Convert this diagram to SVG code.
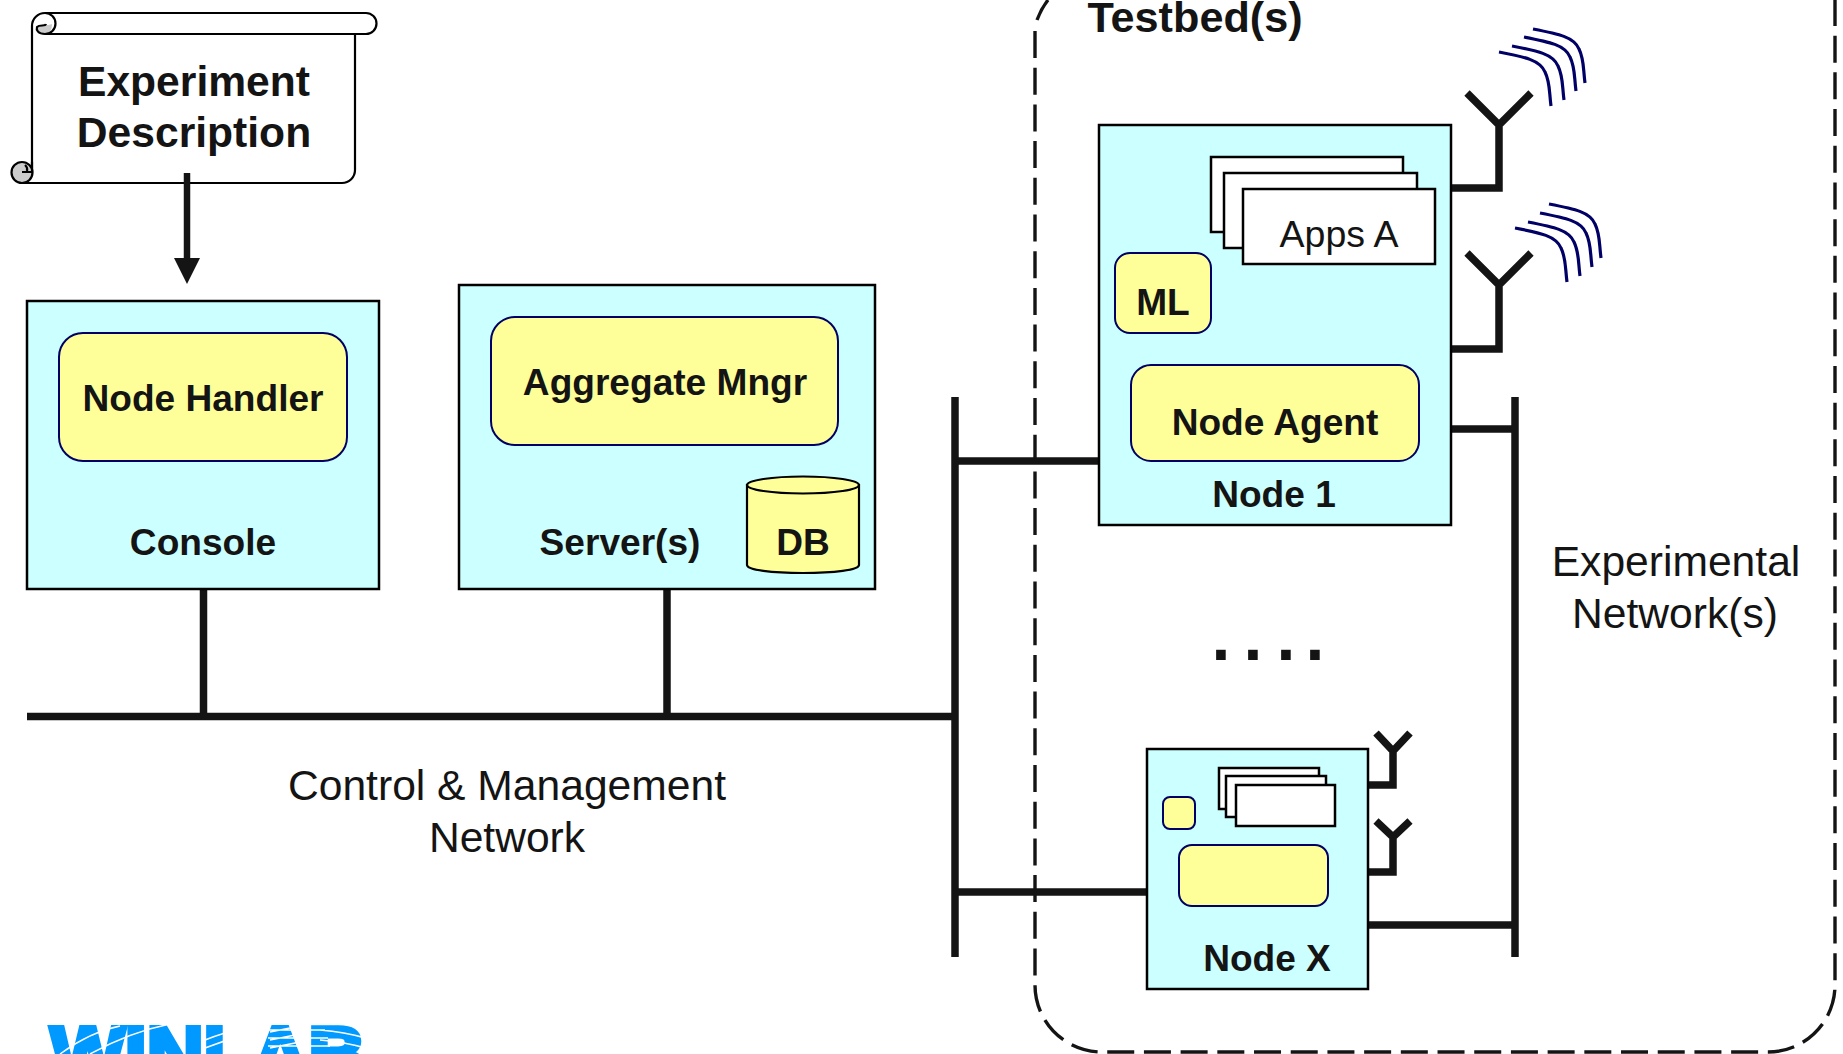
<svg xmlns="http://www.w3.org/2000/svg" width="1843" height="1054" viewBox="0 0 1843 1054">
<style>
text{font-family:"Liberation Sans",Arial,sans-serif;fill:#141414;text-anchor:middle}
.b{font-weight:700}
.t42{font-size:42.6px}
.t37{font-size:37.1px}
.box{fill:#ccffff;stroke:#000;stroke-width:2.5}
.ylw{fill:#ffff99;stroke:#000066;stroke-width:2}
.app{fill:#fff;stroke:#000;stroke-width:2.5}
.bus{fill:none;stroke:#141414;stroke-width:7.5}
.wave{fill:none;stroke:#000066;stroke-width:3.2}
.ln{fill:none;stroke:#000;stroke-width:2.2}
.curl{fill:#cccccc;stroke:#000;stroke-width:2.2}
.dash{fill:none;stroke:#141414;stroke-width:3.4}
</style>
<rect width="1843" height="1054" fill="#fff"/>
<g id="testbed">
<path class="dash" stroke-dasharray="27 9.700" d="M1035 31V985A67 67 0 0 0 1102 1052H1768A67 67 0 0 0 1835 985V-40"/>
<path class="dash" d="M1048 0Q1041 9 1037 20"/>
<text class="b" font-size="43.2" x="1195" y="32">Testbed(s)</text>
</g>
<g id="connectors">
<path class="bus" d="M27 716.500H955M955 397V957M203.500 589V716.500M667 589V716.500M955 461H1099M955 892H1147M1515 397V957M1451 429H1515M1368 925H1515"/>
<path class="bus" d="M1451 188H1499V125M1467 93L1499 125L1531 93"/>
<path class="bus" d="M1451 349H1499V285M1467 253L1499 285L1531 253"/>
<path class="bus" d="M1368 785H1393V751M1376 733L1393 751L1410 733"/>
<path class="bus" d="M1368 872H1393V837M1376 821L1393 837L1410 821"/>
<path class="wave" d="M1499 52C1525 57 1540 60 1545 72C1550 82 1549 90 1551 106M1512 46C1538 51 1553 54 1558 66C1563 76 1562 84 1564 100M1524 37C1550 42 1565 45 1570 57C1575 67 1574 75 1576 91M1533 29C1559 34 1574 37 1579 49C1584 59 1583 67 1585 83"/>
<path class="wave" d="M1515 228C1541 233 1556 236 1561 248C1566 258 1565 266 1567 282M1528 222C1554 227 1569 230 1574 242C1579 252 1578 260 1580 276M1540 213C1566 218 1581 221 1586 233C1591 243 1590 251 1592 267M1549 204C1575 209 1590 212 1595 224C1600 234 1599 242 1601 258"/>
</g>
<g id="experiment-description">
<path d="M32 172V26A13 13 0 0 1 45 13H366A10.500 10.500 0 0 1 366 34H355V170A13 13 0 0 1 342 183H22" fill="#fff" stroke="#000" stroke-width="2.200"/>
<path class="ln" d="M45 34H366"/>
<path d="M45 34C38 34 36 30 37 27C40 24 48 26 52 24C52 30 50 33 45 34Z" fill="#cccccc"/>
<path class="ln" d="M45 13A10.500 10.500 0 0 1 45 34C38 34 36 30 37 27C40 24 45 27 46 24"/>
<circle class="curl" cx="22" cy="172.500" r="10.500"/>
<path class="ln" d="M32 162V172H22M25 165A6 6 0 0 1 27 171" fill="#fff"/>
<text class="b t42" x="194" y="96">Experiment</text>
<text class="b t42" x="194" y="147">Description</text>
</g>
<g id="arrow">
<path d="M187 173V260" stroke="#141414" stroke-width="6.500" fill="none"/>
<path d="M174 258H200L187 284Z" fill="#141414"/>
</g>
<g id="console">
<rect class="box" x="27" y="301" width="352" height="288"/>
<rect class="ylw" x="59" y="333" width="288" height="128" rx="24"/>
<text class="b t37" x="203" y="411">Node Handler</text>
<text class="b t37" x="203" y="555">Console</text>
</g>
<g id="server">
<rect class="box" x="459" y="285" width="416" height="304"/>
<rect class="ylw" x="491" y="317" width="347" height="128" rx="24"/>
<text class="b t37" x="665" y="395">Aggregate Mngr</text>
<text class="b t37" x="620" y="555">Server(s)</text>
</g>
<g id="db">
<path d="M747 485V565C747 570 772 573 803 573S859 570 859 565V485Z" fill="#ffff99" stroke="#000" stroke-width="2.200"/>
<ellipse cx="803" cy="485" rx="56" ry="8.500" fill="#ffff99" stroke="#000" stroke-width="2.200"/>
<text class="b t37" x="803" y="555">DB</text>
</g>
<g id="node-1">
<rect class="box" x="1099" y="125" width="352" height="400"/>
<rect class="app" x="1211" y="157" width="192" height="75"/>
<rect class="app" x="1224" y="173" width="193" height="75"/>
<rect class="app" x="1243" y="189" width="192" height="75"/>
<text class="t37" x="1339" y="247" style="font-size:37.5px">Apps A</text>
<rect class="ylw" x="1115" y="253" width="96" height="80" rx="15"/>
<text class="b t37" x="1163" y="315">ML</text>
<rect class="ylw" x="1131" y="365" width="288" height="96" rx="20"/>
<text class="b t37" x="1275" y="435">Node Agent</text>
<text class="b t37" x="1274" y="507">Node 1</text>
</g>
<g id="node-x">
<rect class="box" x="1147" y="749" width="221" height="240"/>
<rect class="app" x="1219" y="768" width="100" height="41"/>
<rect class="app" x="1226" y="776" width="100" height="41"/>
<rect class="app" x="1236" y="785" width="99" height="41"/>
<rect class="ylw" x="1163" y="797" width="32" height="32" rx="7"/>
<rect class="ylw" x="1179" y="845" width="149" height="61" rx="13"/>
<text class="b t37" x="1267" y="971">Node X</text>
</g>
<g id="labels">
<text class="b" font-size="68" x="1221 1253 1286 1315" y="660">....</text>
<text class="t42" x="1676" y="576">Experimental</text>
<text class="t42" x="1675" y="628">Network(s)</text>
<text class="t42" x="507" y="800">Control &amp; Management</text>
<text class="t42" x="507" y="852">Network</text>
</g>
<g id="logo">
<text x="208" y="1080" font-size="76" font-weight="700" style="fill:#0099ff;stroke:#0099ff;stroke-width:5" textLength="315" lengthAdjust="spacingAndGlyphs">WINLAB</text>
<path d="M60 1054Q90 1032 120 1026M90 1054Q130 1032 170 1024M205 1040Q225 1032 245 1028M205 1048Q225 1040 245 1035M270 1032Q290 1028 310 1024M270 1040Q290 1036 310 1032M270 1048Q290 1044 310 1040M268 1030H325M268 1038H328M268 1046H330M320 1030Q345 1032 365 1038M320 1040Q345 1042 365 1048" fill="none" stroke="#fff" stroke-width="1.500"/>
</g>
</svg>
